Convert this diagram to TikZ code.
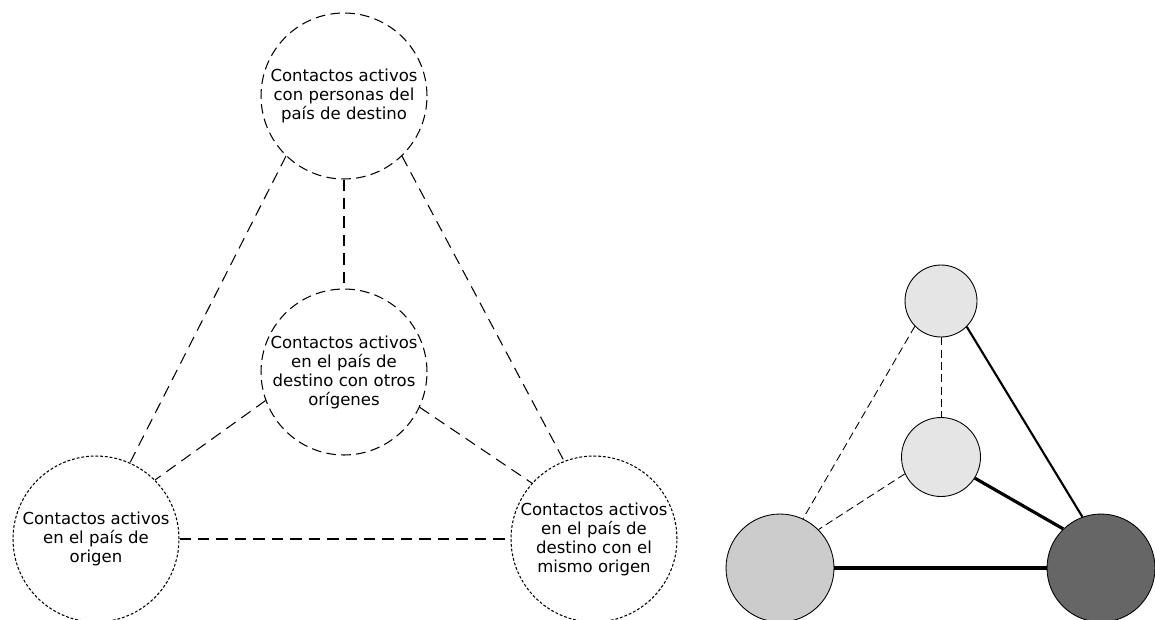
\documentclass[tikz,border=0pt]{standalone}
\usepackage{fontspec}
\setmainfont{DejaVu Sans}
\usetikzlibrary{positioning}
\definecolor{paleball}{RGB}{229,229,229}
\definecolor{greyball}{RGB}{204,204,204}
\definecolor{darkball}{RGB}{102,102,102}

\tikzset{
  contact/.style={circle, draw, line width=0.6pt, minimum size=3.32cm, inner sep=0pt,
    align=center, font=\fontsize{9.4}{10.8}\selectfont},
  longdash/.style={dash pattern=on 5.5pt off 3pt},
  shortdash/.style={dash pattern=on 1.6pt off 1.1pt},
  tie/.style={line width=0.6pt, dash pattern=on 6.5pt off 4pt},
  ball/.style={circle, draw, line width=0.5pt, inner sep=0pt},
  weak/.style={line width=0.5pt, dash pattern=on 4.5pt off 2.5pt},
}

\begin{document}
\begin{tikzpicture}[x=0.02cm, y=-0.02cm]
\useasboundingbox (0,0) rectangle (1155,619);

% Left diagram: kinds of contacts
\node[contact, longdash] (dest) at (344,96) {Contactos activos\\con personas del\\país de destino};
\node[contact, longdash] (other) at (344,372) {Contactos activos\\en el país de\\destino con otros\\orígenes};
\node[contact, shortdash] (orig) at (96,539) {Contactos activos\\en el país de\\origen};
\node[contact, shortdash] (same) at (594,539) {Contactos activos\\en el país de\\destino con el\\mismo origen};

\draw[tie] (dest.270) -- (other.90);
\draw[tie] (dest.226) -- (orig.66);
\draw[tie] (dest.314) -- (same.111);
\draw[tie] (other.200) -- (orig.45);
\draw[tie] (other.335) -- (same.138);
\draw[tie] (orig.0) -- (same.180);

% Right diagram: strength of ties
\node[ball, fill=paleball, minimum size=1.44cm] (btop) at (941,301) {};
\node[ball, fill=paleball, minimum size=1.58cm] (bmid) at (941,457) {};
\node[ball, fill=greyball, minimum size=2.16cm] (bleft) at (780,568) {};
\node[ball, fill=darkball, minimum size=2.16cm] (bright) at (1101,568) {};

\draw[weak] (btop.270) -- (bmid.90);
\draw[weak] (btop.224) -- (bleft.65);
\draw[weak] (bmid.205) -- (bleft.45);
\draw[line width=1.2pt] (btop.315) -- (bright.110);
\draw[line width=1.8pt] (bmid.328) -- (bright.134);
\draw[line width=2.4pt] (bleft.0) -- (bright.180);
\end{tikzpicture}
\end{document}
